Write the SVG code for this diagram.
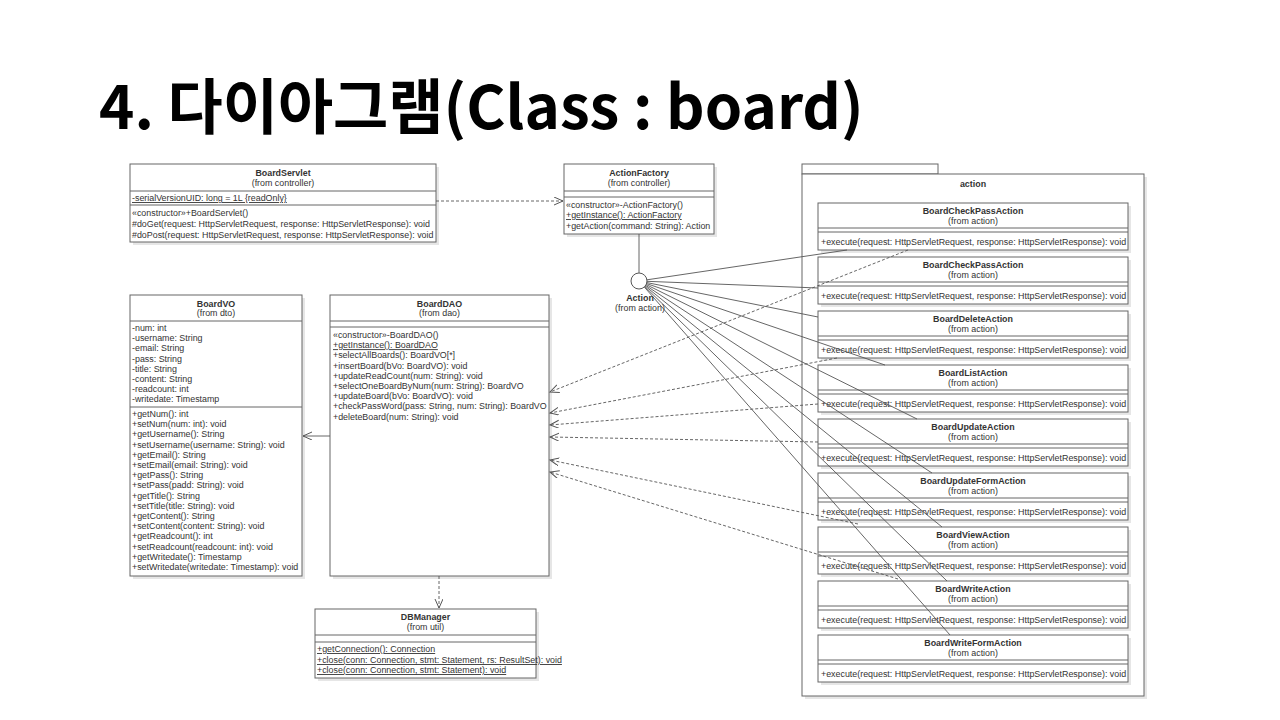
<svg xmlns="http://www.w3.org/2000/svg" width="1280" height="720" viewBox="0 0 1280 720">
<style>
.box{fill:#fff;stroke:#666;stroke-width:1}
.sh{fill:#e6e6e6}
.sep{stroke:#666;stroke-width:1}
.t{font-family:"Liberation Sans",Arial,sans-serif;font-size:8.9px;fill:#333}
.n{font-weight:bold;text-anchor:middle}
.c{text-anchor:middle}
.u{text-decoration:underline}
.dash{stroke:#555;stroke-dasharray:3 2;fill:none;stroke-width:0.9}
.sol{stroke:#555;fill:none;stroke-width:0.9}
.title{font-family:"Noto Sans CJK KR","Noto Sans",sans-serif;font-size:60px;font-weight:bold;fill:#000}
</style>
<defs>
<marker id="open" markerUnits="userSpaceOnUse" markerWidth="11" markerHeight="10" refX="9" refY="4" orient="auto">
<path d="M0,0 L9,4 L0,8" fill="none" stroke="#555" stroke-width="1"/>
</marker>
</defs>
<rect width="1280" height="720" fill="#fff"/>
<text class="title" x="99" y="129">4. 다이아그램(Class : board)</text>

<g id="BoardServlet">
<rect class="sh" x="133" y="167" width="306" height="78"/>
<rect class="box" x="130" y="164" width="306" height="78"/>
<line class="sep" x1="130" y1="191" x2="436" y2="191"/>
<line class="sep" x1="130" y1="205" x2="436" y2="205"/>
<text class="t n" x="283" y="176">BoardServlet</text>
<text class="t c" x="283" y="186">(from controller)</text>
<text class="t u" x="132" y="201">-serialVersionUID: long = 1L {readOnly}</text>
<text class="t" x="132" y="216">«constructor»+BoardServlet()</text>
<text class="t" x="132" y="227">#doGet(request: HttpServletRequest, response: HttpServletResponse): void</text>
<text class="t" x="132" y="238">#doPost(request: HttpServletRequest, response: HttpServletResponse): void</text>
</g>

<g id="ActionFactory">
<rect class="sh" x="567" y="167" width="150" height="70"/>
<rect class="box" x="564" y="164" width="150" height="70"/>
<line class="sep" x1="564" y1="191" x2="714" y2="191"/>
<line class="sep" x1="564" y1="197" x2="714" y2="197"/>
<text class="t n" x="639" y="176">ActionFactory</text>
<text class="t c" x="639" y="186">(from controller)</text>
<text class="t" x="566" y="208">«constructor»-ActionFactory()</text>
<text class="t u" x="566" y="218">+getInstance(): ActionFactory</text>
<text class="t" x="566" y="229">+getAction(command: String): Action</text>
</g>

<g id="BoardVO">
<rect class="sh" x="133" y="298" width="172" height="281"/>
<rect class="box" x="130" y="295" width="172" height="281"/>
<line class="sep" x1="130" y1="321" x2="302" y2="321"/>
<line class="sep" x1="130" y1="407" x2="302" y2="407"/>
<text class="t n" x="216" y="307">BoardVO</text>
<text class="t c" x="216" y="316">(from dto)</text>
<text class="t" x="132" y="331">-num: int</text>
<text class="t" x="132" y="341.2">-username: String</text>
<text class="t" x="132" y="351.4">-email: String</text>
<text class="t" x="132" y="361.6">-pass: String</text>
<text class="t" x="132" y="371.8">-title: String</text>
<text class="t" x="132" y="382">-content: String</text>
<text class="t" x="132" y="392.2">-readcount: int</text>
<text class="t" x="132" y="402.4">-writedate: Timestamp</text>
<text class="t" x="132" y="417">+getNum(): int</text>
<text class="t" x="132" y="427.2">+setNum(num: int): void</text>
<text class="t" x="132" y="437.4">+getUsername(): String</text>
<text class="t" x="132" y="447.6">+setUsername(username: String): void</text>
<text class="t" x="132" y="457.8">+getEmail(): String</text>
<text class="t" x="132" y="468">+setEmail(email: String): void</text>
<text class="t" x="132" y="478.2">+getPass(): String</text>
<text class="t" x="132" y="488.4">+setPass(padd: String): void</text>
<text class="t" x="132" y="498.6">+getTitle(): String</text>
<text class="t" x="132" y="508.8">+setTitle(title: String): void</text>
<text class="t" x="132" y="519">+getContent(): String</text>
<text class="t" x="132" y="529.2">+setContent(content: String): void</text>
<text class="t" x="132" y="539.4">+getReadcount(): int</text>
<text class="t" x="132" y="549.6">+setReadcount(readcount: int): void</text>
<text class="t" x="132" y="559.8">+getWritedate(): Timestamp</text>
<text class="t" x="132" y="570">+setWritedate(writedate: Timestamp): void</text>
</g>

<g id="BoardDAO">
<rect class="sh" x="333" y="298" width="219" height="281"/>
<rect class="box" x="330" y="295" width="219" height="281"/>
<line class="sep" x1="330" y1="321" x2="549" y2="321"/>
<line class="sep" x1="330" y1="327" x2="549" y2="327"/>
<text class="t n" x="439.5" y="307">BoardDAO</text>
<text class="t c" x="439.5" y="316">(from dao)</text>
<text class="t" x="333" y="338">«constructor»-BoardDAO()</text>
<text class="t u" x="333" y="348.2">+getInstance(): BoardDAO</text>
<text class="t" x="333" y="358.4">+selectAllBoards(): BoardVO[*]</text>
<text class="t" x="333" y="368.6">+insertBoard(bVo: BoardVO): void</text>
<text class="t" x="333" y="378.8">+updateReadCount(num: String): void</text>
<text class="t" x="333" y="389">+selectOneBoardByNum(num: String): BoardVO</text>
<text class="t" x="333" y="399.2">+updateBoard(bVo: BoardVO): void</text>
<text class="t" x="333" y="409.4">+checkPassWord(pass: String, num: String): BoardVO</text>
<text class="t" x="333" y="419.6">+deleteBoard(num: String): void</text>
</g>

<g id="DBManager">
<rect class="sh" x="318" y="612" width="221" height="69"/>
<rect class="box" x="315" y="609" width="221" height="69"/>
<line class="sep" x1="315" y1="635" x2="536" y2="635"/>
<line class="sep" x1="315" y1="642" x2="536" y2="642"/>
<text class="t n" x="425.5" y="620">DBManager</text>
<text class="t c" x="425.5" y="630">(from util)</text>
<text class="t u" x="317" y="652">+getConnection(): Connection</text>
<text class="t u" x="317" y="663">+close(conn: Connection, stmt: Statement, rs: ResultSet): void</text>
<text class="t u" x="317" y="673">+close(conn: Connection, stmt: Statement): void</text>
</g>

<g id="actionPackage">
<rect class="sh" x="805" y="177" width="342" height="522"/>
<rect class="box" x="802" y="164" width="136" height="10"/>
<rect class="box" x="802" y="174" width="342" height="522"/>
<text class="t n" x="973" y="187">action</text>
</g>

<g id="BoardCheckPassAction1">
<rect class="sh" x="821" y="206" width="310" height="47"/>
<rect class="box" x="818" y="203" width="310" height="47"/>
<line class="sep" x1="818" y1="228" x2="1128" y2="228"/>
<line class="sep" x1="818" y1="232" x2="1128" y2="232"/>
<text class="t n" x="973" y="214">BoardCheckPassAction</text>
<text class="t c" x="973" y="224">(from action)</text>
<text class="t" x="821" y="245">+execute(request: HttpServletRequest, response: HttpServletResponse): void</text>
</g>
<g id="BoardCheckPassAction2">
<rect class="sh" x="821" y="260" width="310" height="47"/>
<rect class="box" x="818" y="257" width="310" height="47"/>
<line class="sep" x1="818" y1="282" x2="1128" y2="282"/>
<line class="sep" x1="818" y1="286" x2="1128" y2="286"/>
<text class="t n" x="973" y="268">BoardCheckPassAction</text>
<text class="t c" x="973" y="278">(from action)</text>
<text class="t" x="821" y="299">+execute(request: HttpServletRequest, response: HttpServletResponse): void</text>
</g>
<g id="BoardDeleteAction">
<rect class="sh" x="821" y="314" width="310" height="47"/>
<rect class="box" x="818" y="311" width="310" height="47"/>
<line class="sep" x1="818" y1="336" x2="1128" y2="336"/>
<line class="sep" x1="818" y1="340" x2="1128" y2="340"/>
<text class="t n" x="973" y="322">BoardDeleteAction</text>
<text class="t c" x="973" y="332">(from action)</text>
<text class="t" x="821" y="353">+execute(request: HttpServletRequest, response: HttpServletResponse): void</text>
</g>
<g id="BoardListAction">
<rect class="sh" x="821" y="368" width="310" height="47"/>
<rect class="box" x="818" y="365" width="310" height="47"/>
<line class="sep" x1="818" y1="390" x2="1128" y2="390"/>
<line class="sep" x1="818" y1="394" x2="1128" y2="394"/>
<text class="t n" x="973" y="376">BoardListAction</text>
<text class="t c" x="973" y="386">(from action)</text>
<text class="t" x="821" y="407">+execute(request: HttpServletRequest, response: HttpServletResponse): void</text>
</g>
<g id="BoardUpdateAction">
<rect class="sh" x="821" y="422" width="310" height="47"/>
<rect class="box" x="818" y="419" width="310" height="47"/>
<line class="sep" x1="818" y1="444" x2="1128" y2="444"/>
<line class="sep" x1="818" y1="448" x2="1128" y2="448"/>
<text class="t n" x="973" y="430">BoardUpdateAction</text>
<text class="t c" x="973" y="440">(from action)</text>
<text class="t" x="821" y="461">+execute(request: HttpServletRequest, response: HttpServletResponse): void</text>
</g>
<g id="BoardUpdateFormAction">
<rect class="sh" x="821" y="476" width="310" height="47"/>
<rect class="box" x="818" y="473" width="310" height="47"/>
<line class="sep" x1="818" y1="498" x2="1128" y2="498"/>
<line class="sep" x1="818" y1="502" x2="1128" y2="502"/>
<text class="t n" x="973" y="484">BoardUpdateFormAction</text>
<text class="t c" x="973" y="494">(from action)</text>
<text class="t" x="821" y="515">+execute(request: HttpServletRequest, response: HttpServletResponse): void</text>
</g>
<g id="BoardViewAction">
<rect class="sh" x="821" y="530" width="310" height="47"/>
<rect class="box" x="818" y="527" width="310" height="47"/>
<line class="sep" x1="818" y1="552" x2="1128" y2="552"/>
<line class="sep" x1="818" y1="556" x2="1128" y2="556"/>
<text class="t n" x="973" y="538">BoardViewAction</text>
<text class="t c" x="973" y="548">(from action)</text>
<text class="t" x="821" y="569">+execute(request: HttpServletRequest, response: HttpServletResponse): void</text>
</g>
<g id="BoardWriteAction">
<rect class="sh" x="821" y="584" width="310" height="47"/>
<rect class="box" x="818" y="581" width="310" height="47"/>
<line class="sep" x1="818" y1="606" x2="1128" y2="606"/>
<line class="sep" x1="818" y1="610" x2="1128" y2="610"/>
<text class="t n" x="973" y="592">BoardWriteAction</text>
<text class="t c" x="973" y="602">(from action)</text>
<text class="t" x="821" y="623">+execute(request: HttpServletRequest, response: HttpServletResponse): void</text>
</g>
<g id="BoardWriteFormAction">
<rect class="sh" x="821" y="638" width="310" height="47"/>
<rect class="box" x="818" y="635" width="310" height="47"/>
<line class="sep" x1="818" y1="660" x2="1128" y2="660"/>
<line class="sep" x1="818" y1="664" x2="1128" y2="664"/>
<text class="t n" x="973" y="646">BoardWriteFormAction</text>
<text class="t c" x="973" y="656">(from action)</text>
<text class="t" x="821" y="677">+execute(request: HttpServletRequest, response: HttpServletResponse): void</text>
</g>

<g id="connectors">
<path class="dash" d="M436,201 L563,201" marker-end="url(#open)"/>
<path class="dash" d="M439,576 L439,608" marker-end="url(#open)"/>
<path class="sol" d="M330,436 L303,436" marker-end="url(#open)"/>
<path class="sol" d="M639,234 L639,273"/>
<path class="sol" d="M639,281 L847,250"/>
<path class="sol" d="M639,281 L818,288"/>
<path class="sol" d="M639,281 L818,317"/>
<path class="sol" d="M639,281 L885,365"/>
<path class="sol" d="M639,281 L917,419"/>
<path class="sol" d="M639,281 L932,473"/>
<path class="sol" d="M639,281 L942,527"/>
<path class="sol" d="M639,281 L947,581"/>
<path class="sol" d="M639,281 L950,635"/>
<path class="dash" d="M908,250 L550,392" marker-end="url(#open)"/>
<path class="dash" d="M837,358 L550,413" marker-end="url(#open)"/>
<path class="dash" d="M818,404 L550,425" marker-end="url(#open)"/>
<path class="dash" d="M818,442 L550,437" marker-end="url(#open)"/>
<path class="dash" d="M858,524 L550,460" marker-end="url(#open)"/>
<path class="dash" d="M898,579 L550,472" marker-end="url(#open)"/>
</g>

<g id="Action">
<circle cx="639" cy="281" r="8" fill="#fff" stroke="#555" stroke-width="1"/>
<text class="t n" x="640" y="301">Action</text>
<text class="t c" x="640" y="311">(from action)</text>
</g>
</svg>
